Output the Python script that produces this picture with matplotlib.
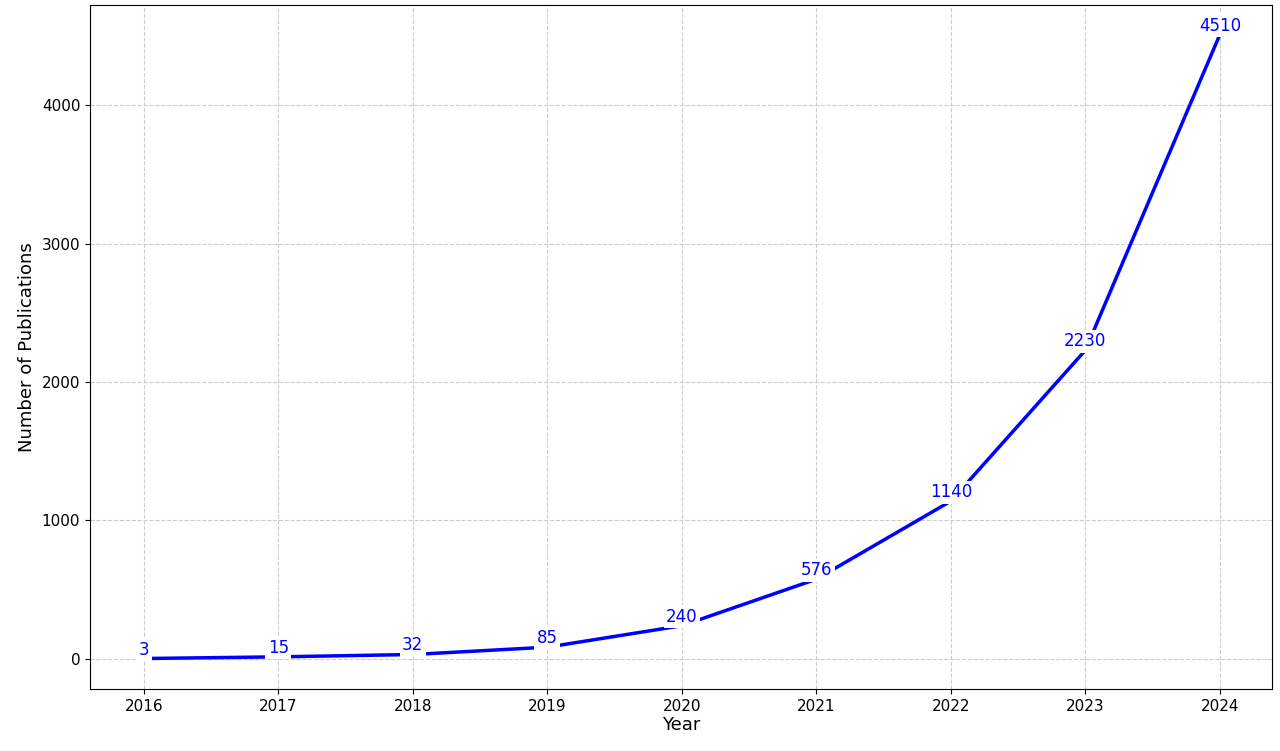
import matplotlib
matplotlib.use("Agg")
import matplotlib.pyplot as plt

years = [2016, 2017, 2018, 2019, 2020, 2021, 2022, 2023, 2024]
pubs = [3, 15, 32, 85, 240, 576, 1140, 2230, 4510]

fig = plt.figure(figsize=(12.8, 7.51), dpi=100)
ax = fig.add_axes([0.0703, 0.0826, 0.9237, 0.9104])
ax.plot(years, pubs, color="blue", linewidth=2.5, zorder=2)
for x, y in zip(years, pubs):
    ax.text(x, y, str(y), color="blue", fontsize=12, ha="center", va="bottom",
            bbox=dict(boxstyle="square,pad=0.15", fc="white", ec="none"), zorder=3)
ax.set_xlim(2015.6, 2024.39)
ax.set_ylim(-217, 4722)
ax.set_xticks(years)
ax.set_yticks([0, 1000, 2000, 3000, 4000])
ax.tick_params(labelsize=11)
ax.grid(True, linestyle="--", color="#cccccc", linewidth=0.8)
ax.set_axisbelow(True)
ax.set_xlabel("Year", fontsize=13, labelpad=2)
ax.set_ylabel("Number of Publications", fontsize=13)
fig.savefig("out.png", dpi=100)
